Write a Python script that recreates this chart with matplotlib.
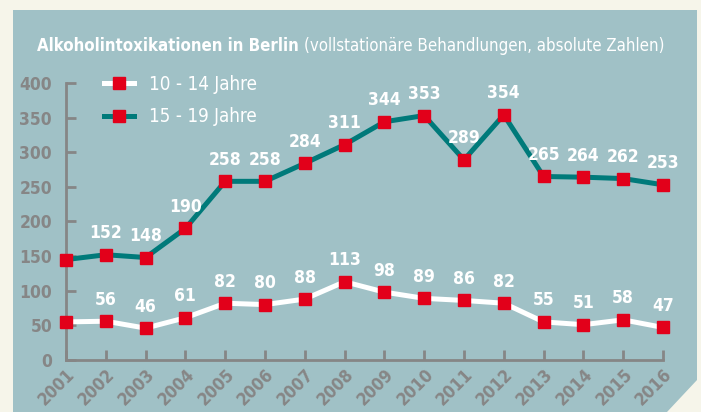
import matplotlib
matplotlib.use('Agg')
import matplotlib.pyplot as plt
from matplotlib.patches import Polygon
from matplotlib.lines import Line2D

years = list(range(2001, 2017))
jahre_10_14 = [55, 56, 46, 61, 82, 80, 88, 113, 98, 89, 86, 82, 55, 51, 58, 47]
jahre_15_19 = [145, 152, 148, 190, 258, 258, 284, 311, 344, 353, 289, 354, 265, 264, 262, 253]
# 2001 has no printed label in the original
show_label = [False] + [True] * 15

W, H = 701, 412
cream = '#f6f5ea'
panel = '#a0c1c6'
teal = '#007a7a'
red = '#e2001a'
grey = '#868686'
font = ['DejaVu Sans']
stretch = 'condensed'

fig = plt.figure(figsize=(W/100, H/100), dpi=100)
fig.patch.set_facecolor(cream)

# panel with cut corner bottom right
pts = [(13, 10), (697, 10), (697, 380), (667, 412), (13, 412)]
fig.patches.append(Polygon([(x/W, 1 - y/H) for x, y in pts], closed=True,
                           transform=fig.transFigure, facecolor=panel,
                           edgecolor='none', zorder=-5))

ax = fig.add_axes([66/W, 1 - 360/H, (663-66)/W, (360-83)/H])
ax.set_facecolor('none')
ax.set_zorder(2)
ax.set_xlim(2001, 2016)
ax.set_ylim(0, 400)

ax.plot(years, jahre_10_14, color='white', lw=3.6, marker='s', ms=8.8,
        mfc=red, mec=red, clip_on=False, zorder=3)
ax.plot(years, jahre_15_19, color=teal, lw=3.6, marker='s', ms=8.8,
        mfc=red, mec=red, clip_on=False, zorder=3)

for x, a, b, s in zip(years, jahre_10_14, jahre_15_19, show_label):
    if not s:
        continue
    for v in (a, b):
        ax.annotate(str(v), (x, v), xytext=(0, 9), textcoords='offset points',
                    ha='center', va='bottom', color='white', fontsize=12.5,
                    fontweight='bold', family=font, fontstretch=stretch, zorder=4)

for side in ('top', 'right'):
    ax.spines[side].set_visible(False)
for side in ('left', 'bottom'):
    ax.spines[side].set_color(grey)
    ax.spines[side].set_linewidth(2)

ax.set_yticks(range(0, 401, 50))
ax.set_xticks(years)
ax.tick_params(axis='both', direction='in', length=7, width=2, color=grey,
               labelcolor=grey)
ax.tick_params(axis='y', pad=10)
ax.tick_params(axis='x', pad=4)
for lab in ax.get_yticklabels() + ax.get_xticklabels():
    lab.set_fontfamily(font)
    lab.set_fontweight('bold')
    lab.set_fontsize(12.5)
    lab.set_fontstretch(stretch)
for lab in ax.get_xticklabels():
    lab.set_rotation(45)
    lab.set_ha('right')
    lab.set_rotation_mode('anchor')

handles = [
    Line2D([], [], color='white', lw=3.6, marker='s', ms=8.8, mfc=red, mec=red),
    Line2D([], [], color=teal, lw=3.6, marker='s', ms=8.8, mfc=red, mec=red),
]
leg = ax.legend(handles, ['10 - 14 Jahre', '15 - 19 Jahre'], loc='upper left',
                bbox_to_anchor=(0.035, 1.09), frameon=False, handlelength=1.6,
                labelspacing=0.7, handletextpad=0.8,
                prop={'family': font, 'size': 13.5, 'stretch': stretch})
for t in leg.get_texts():
    t.set_color('white')

# title: bold part followed by regular part, centred in the panel
t1 = fig.text(0, 1 - 46/H, 'Alkoholintoxikationen in Berlin', color='white',
              fontsize=12.1, fontweight='bold', family=font, fontstretch=stretch,
              va='center')
t2 = fig.text(0, 1 - 46/H, '(vollstationäre Behandlungen, absolute Zahlen)',
              color='white', fontsize=12.1, family=font, fontstretch=stretch,
              va='center')
fig.canvas.draw()
w1 = t1.get_window_extent().width
w2 = t2.get_window_extent().width
x0 = (37 + 665) / 2 - (w1 + 5 + w2) / 2
t1.set_x(x0 / W)
t2.set_x((x0 + w1 + 5) / W)

fig.savefig('out.png', dpi=100, facecolor=cream)
